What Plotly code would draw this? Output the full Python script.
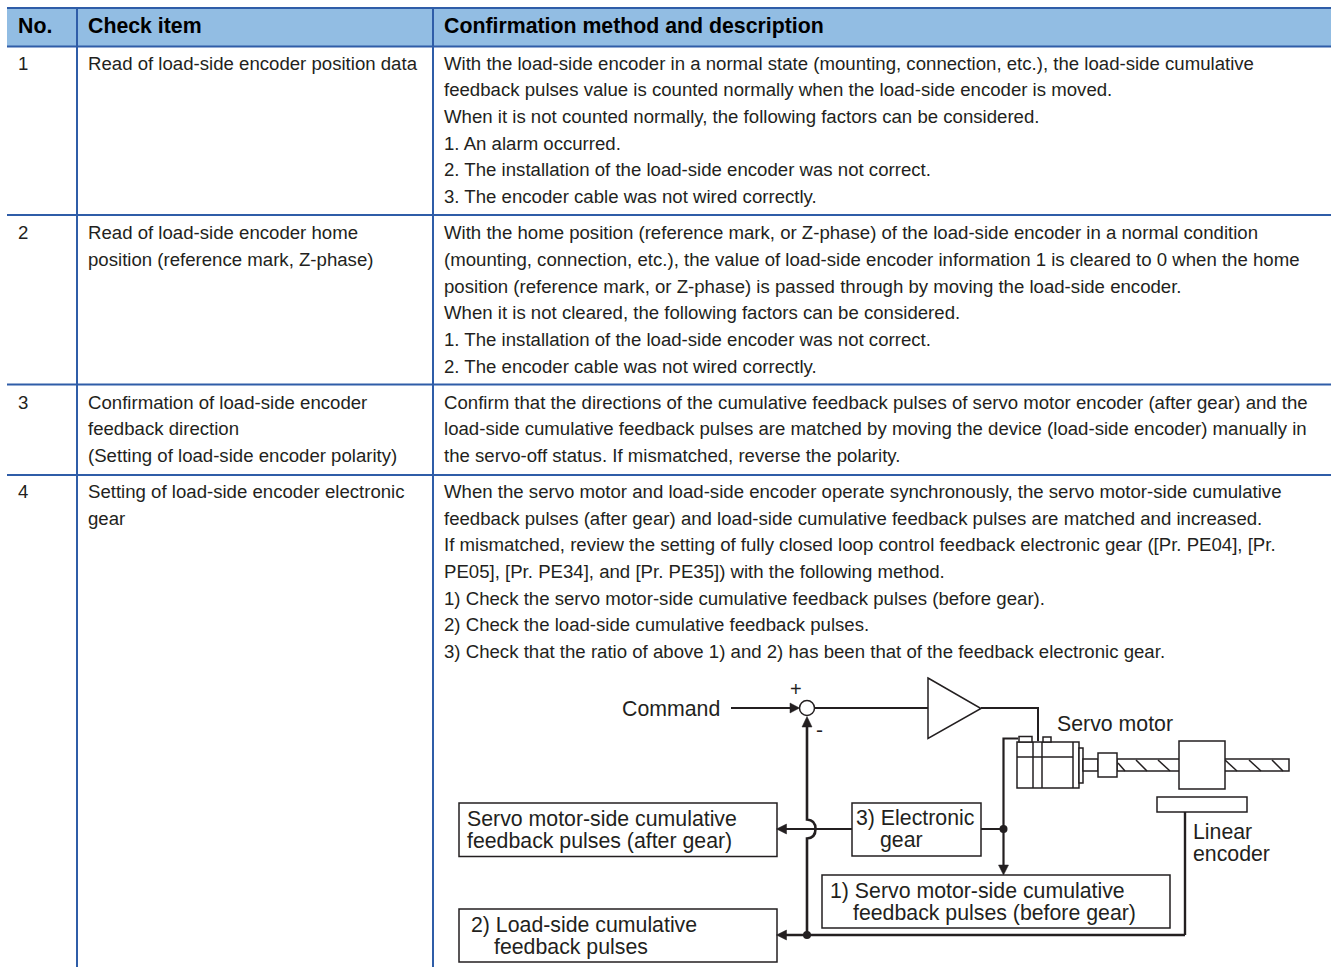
import plotly.graph_objects as go

# ---------- content ----------
headers = ["No.", "Check item", "Confirmation method and description"]
numbers = ["1", "2", "3", "4"]
check_items = [
    ["Read of load-side encoder position data"],
    ["Read of load-side encoder home", "position (reference mark, Z-phase)"],
    ["Confirmation of load-side encoder", "feedback direction", "(Setting of load-side encoder polarity)"],
    ["Setting of load-side encoder electronic", "gear"],
]
descriptions = [
    ["With the load-side encoder in a normal state (mounting, connection, etc.), the load-side cumulative",
     "feedback pulses value is counted normally when the load-side encoder is moved.",
     "When it is not counted normally, the following factors can be considered.",
     "1. An alarm occurred.",
     "2. The installation of the load-side encoder was not correct.",
     "3. The encoder cable was not wired correctly."],
    ["With the home position (reference mark, or Z-phase) of the load-side encoder in a normal condition",
     "(mounting, connection, etc.), the value of load-side encoder information 1 is cleared to 0 when the home",
     "position (reference mark, or Z-phase) is passed through by moving the load-side encoder.",
     "When it is not cleared, the following factors can be considered.",
     "1. The installation of the load-side encoder was not correct.",
     "2. The encoder cable was not wired correctly."],
    ["Confirm that the directions of the cumulative feedback pulses of servo motor encoder (after gear) and the",
     "load-side cumulative feedback pulses are matched by moving the device (load-side encoder) manually in",
     "the servo-off status. If mismatched, reverse the polarity."],
    ["When the servo motor and load-side encoder operate synchronously, the servo motor-side cumulative",
     "feedback pulses (after gear) and load-side cumulative feedback pulses are matched and increased.",
     "If mismatched, review the setting of fully closed loop control feedback electronic gear ([Pr. PE04], [Pr.",
     "PE05], [Pr. PE34], and [Pr. PE35]) with the following method.",
     "1) Check the servo motor-side cumulative feedback pulses (before gear).",
     "2) Check the load-side cumulative feedback pulses.",
     "3) Check that the ratio of above 1) and 2) has been that of the feedback electronic gear."],
]
diagram_labels = [
    ("Command", 622, 708.5), ("Servo motor", 1057, 724), ("Linear", 1193, 832), ("encoder", 1193, 854),
    ("Servo motor-side cumulative", 467, 819), ("feedback pulses (after gear)", 467, 841),
    ("3) Electronic", 856, 817.5), ("gear", 880, 839.5),
    ("1) Servo motor-side cumulative", 830, 891), ("feedback pulses (before gear)", 853, 913),
    ("2) Load-side cumulative", 470.5, 924.5), ("feedback pulses", 494, 946.5),
]

# ---------- layout of the table ----------
W, H = 1331, 967
BLUE = "#2f5da8"
HEAD = "#92bde3"
INK = "#231f20"
BODY = 18.63
HEADSIZE = 21.3
DIAG = 21.3
FONT = "Liberation Sans"
col_text_x = [18, 88, 444]
col_rules = [77, 433]
row_rules = [215, 384.5, 475]
head_top, head_bot = 8, 46.5
line_ys = [
    [63, 89.5, 116, 143, 169.5, 196],
    [232, 259, 286, 312.5, 339, 366],
    [402, 428.5, 455],
    [491, 518, 544.5, 571, 598, 624.5, 651],
]

shapes, ann = [], []


def line(x0, y0, x1, y1, color=INK, w=2.0):
    shapes.append(dict(type="line", x0=x0, y0=y0, x1=x1, y1=y1, line=dict(color=color, width=w), layer="above"))


def rect(x0, y0, x1, y1, w=1.5, fill="#ffffff"):
    shapes.append(dict(type="rect", x0=x0, y0=y0, x1=x1, y1=y1, line=dict(color=INK, width=w),
                       fillcolor=fill, layer="above"))


def path(d, w=1.5, fill=None):
    s = dict(type="path", path=d, line=dict(color=INK, width=w), layer="above")
    if fill:
        s["fillcolor"] = fill
    shapes.append(s)


def dot(x, y, r=4):
    shapes.append(dict(type="circle", x0=x - r, y0=y - r, x1=x + r, y1=y + r, fillcolor=INK,
                       line=dict(color=INK, width=0), layer="above"))


def text(s, x, y, size=BODY, color="#231f20", bold=False):
    ann.append(dict(text=f"<b>{s}</b>" if bold else s, x=x, y=y, xref="x", yref="y", xanchor="left",
                    yanchor="middle", showarrow=False, borderpad=0, borderwidth=0,
                    font=dict(family=FONT, size=size, color=color)))


# header band and rules
shapes.append(dict(type="rect", x0=7, y0=head_top, x1=W, y1=head_bot, fillcolor=HEAD, line=dict(width=0), layer="below"))
line(7, head_top, W, head_top, BLUE, 2)
line(7, head_bot, W, head_bot, BLUE, 2)
for y in row_rules:
    line(7, y, W, y, BLUE, 2)
for x in col_rules:
    line(x, head_top, x, H, BLUE, 2)

for h, x in zip(headers, col_text_x):
    text(h, x, 26, size=HEADSIZE, color="#000000", bold=True)

for i, ys in enumerate(line_ys):
    text(numbers[i], col_text_x[0], ys[0])
    for s, y in zip(check_items[i], ys):
        text(s, col_text_x[1], y)
    for s, y in zip(descriptions[i], ys):
        text(s, col_text_x[2], y)

# ---------- block diagram ----------
for s, x, y in diagram_labels:
    text(s, x, y, size=DIAG)
text("+", 790, 689, size=20)
text("-", 816, 729, size=21)

# boxes
rect(459, 803, 777, 856.5)
rect(459, 909, 777, 962)
rect(852, 803, 981, 856)
rect(822, 875, 1170, 928)

# signal lines
line(731, 708, 792, 708)
path("M 928 678 L 981 708.5 L 928 738.5 Z", 1.5, "#ffffff")
line(815, 708, 928, 708)
path("M 981 708 L 1038 708 L 1038 741", 2)
path("M 807 935 L 807 838.5 Q 815.5 838 815.5 829 Q 815.5 820 807 819.5 L 807 722", 2.6)
line(852, 829, 782, 829)
line(1185, 935, 782, 935, w=2.4)
line(1185, 935, 1185, 812, w=2.4)
line(981, 829, 1003.5, 829)
path("M 1018 738.5 L 1003.5 738.5 L 1003.5 868", 2.2)
dot(807, 935)
dot(1003.5, 829)
shapes.append(dict(type="circle", x0=799.5, y0=700.5, x1=814.5, y1=715.5, fillcolor="#ffffff",
                   line=dict(color=INK, width=1.5), layer="above"))
# arrowheads
path("M 790 703 L 799.5 708 L 790 713 Z", 0.5, INK)
path("M 807 716.5 L 802 727 L 812 727 Z", 0.5, INK)
path("M 776.5 829 L 786.5 824 L 786.5 834 Z", 0.5, INK)
path("M 776.5 935 L 786.5 930 L 786.5 940 Z", 0.5, INK)
path("M 1003.5 875 L 998.5 865 L 1008.5 865 Z", 0.5, INK)

# servo motor and ball screw
rect(1017, 742, 1079, 788)
rect(1019, 736.5, 1032, 742)
rect(1043, 737, 1051, 742)
for x in (1033, 1042, 1073):
    line(x, 742, x, 788, w=1.5)
line(1017, 757, 1073, 757, w=1.5)
rect(1079, 748, 1083, 783)
rect(1083, 759, 1098, 771)
rect(1117, 759, 1289, 771)
for x0, x1 in ((1118, 1125), (1136, 1147), (1158, 1170), (1225, 1237), (1249, 1261), (1272, 1283)):
    line(x0, 760 if x0 > 1118 else 763, x1, 771, w=1.5)
rect(1098, 753, 1117, 777)
rect(1179, 741, 1225, 789)
rect(1157, 797, 1247, 812)

fig = go.Figure()
fig.update_layout(
    width=W, height=H, margin=dict(l=0, r=0, t=0, b=0), showlegend=False,
    paper_bgcolor="#ffffff", plot_bgcolor="#ffffff",
    xaxis=dict(range=[0, W], visible=False, fixedrange=True),
    yaxis=dict(range=[H, 0], visible=False, fixedrange=True),
    shapes=shapes, annotations=ann,
)
fig.write_html("out.html", config=dict(displayModeBar=False),
               post_script="document.body.style.margin='0';document.body.style.overflow='hidden';")
